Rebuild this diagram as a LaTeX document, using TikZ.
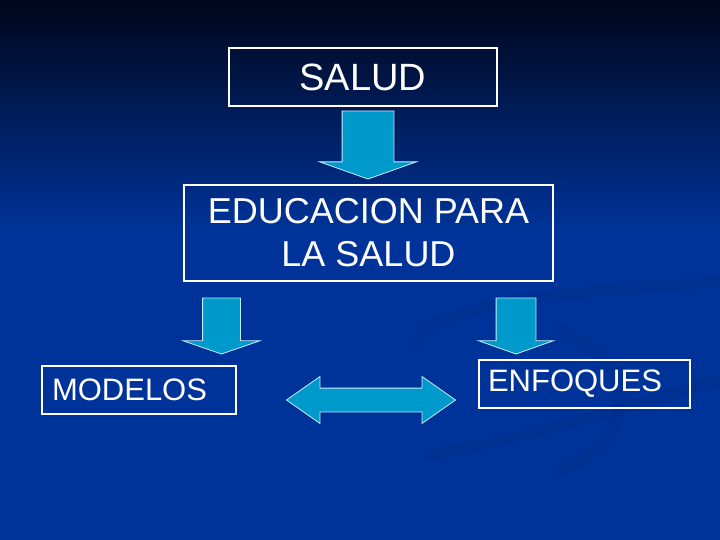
\documentclass[tikz,border=0pt]{standalone}
\usepackage{fontspec}
\setmainfont{Liberation Sans}
\usepackage{tikz}
\definecolor{slideblue}{RGB}{0, 51, 153}
\definecolor{slidenavy}{RGB}{0, 6, 26}
\definecolor{arrowcyan}{RGB}{0, 153, 204}
\definecolor{arrowedge}{RGB}{200, 235, 250}
\definecolor{swirlblue}{RGB}{0, 40, 128}
\usetikzlibrary{shapes.arrows, positioning}

\begin{document}
\begin{tikzpicture}[
    x=1pt, y=-1pt,
    box/.style={rectangle, draw=white, line width=2pt, text=white,
                inner sep=0pt, outer sep=0pt},
    downarrow/.style={single arrow, rotate=-90, anchor=tail, fill=arrowcyan,
                draw=arrowedge, line width=0.8pt, inner xsep=0pt, outer sep=0pt},
    linkarrow/.style={double arrow, fill=arrowcyan, draw=arrowedge,
                line width=0.8pt, inner xsep=0pt, outer sep=0pt},
    swirl/.style={swirlblue, line width=12pt, opacity=0.25, line cap=round}
]
    % Background
    \useasboundingbox (0,0) rectangle (720,540);
    \fill[slideblue] (0,0) rectangle (720,540);
    \shade[top color=slidenavy, bottom color=slideblue] (0,0) rectangle (720,230);
    \draw[swirl] (415,345) .. controls (425,300) and (600,290) .. (720,282);
    \draw[swirl] (560,330) .. controls (640,360) and (640,440) .. (560,470);
    \draw[swirl] (430,455) .. controls (560,430) and (650,400) .. (720,380);

    % Boxes
    \node[box, minimum width=268pt, minimum height=58pt,
          font=\fontsize{38}{44}\selectfont] (salud) at (363,77) {SALUD};
    \node[box, minimum width=369pt, minimum height=96pt, align=center,
          font=\fontsize{36}{43}\selectfont] (edu) at (368.5,233) {EDUCACION PARA\\LA SALUD};
    \node[box, text width=174pt, inner xsep=10pt, minimum height=48pt, align=left,
          font=\fontsize{31}{36}\selectfont] (modelos) at (139,390) {MODELOS};
    \node[box, text width=193pt, inner xsep=9pt, minimum height=48pt, align=left,
          font=\fontsize{31}{36}\selectfont] (enfoques) at (584.5,384) {ENFOQUES};

    % Block arrows
    \node[downarrow, minimum height=68pt, inner ysep=25.5pt,
          single arrow head extend=22.5pt, single arrow tip angle=141] (arr-top) at (368,111) {};
    \node[downarrow, minimum height=56pt, inner ysep=18.5pt,
          single arrow head extend=19.5pt, single arrow tip angle=142] (arr-left) at (221.5,298) {};
    \node[downarrow, minimum height=56pt, inner ysep=19.5pt,
          single arrow head extend=17.5pt, single arrow tip angle=141] (arr-right) at (516,298) {};
    \node[linkarrow, minimum height=169pt, inner ysep=11.5pt,
          double arrow head extend=11.5pt, double arrow tip angle=70] (link) at (371,400) {};
\end{tikzpicture}
\end{document}
